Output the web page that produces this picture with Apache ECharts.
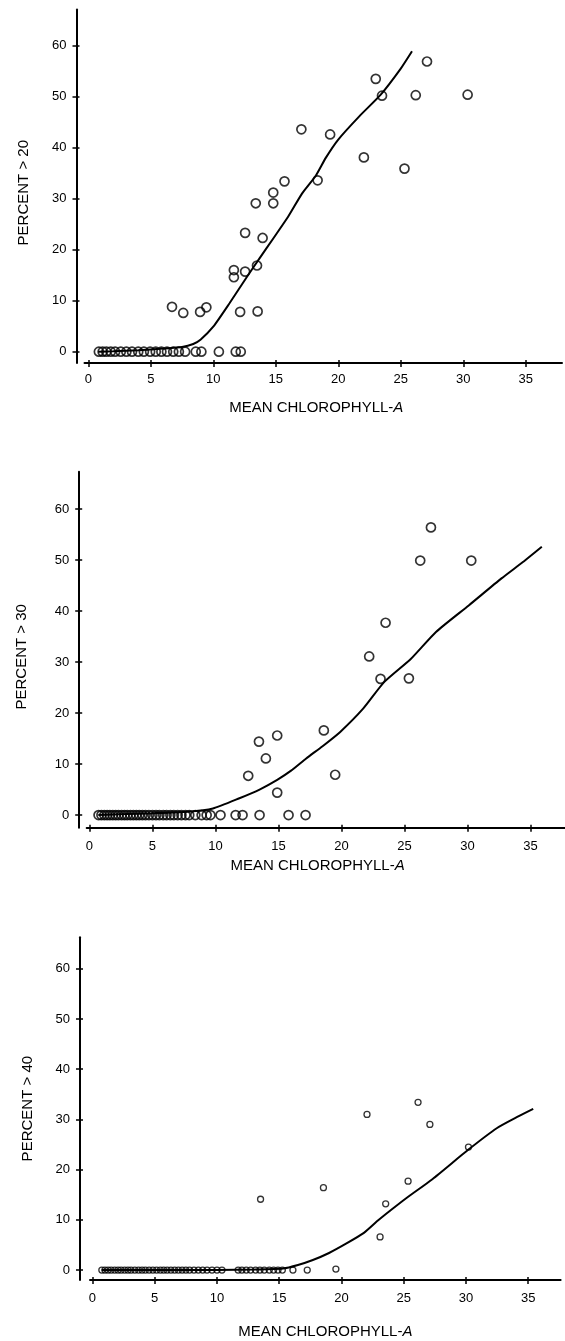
<!DOCTYPE html>
<html>
<head>
<meta charset="utf-8">
<script src="https://cdn.jsdelivr.net/npm/echarts@6/dist/echarts.min.js"></script>
<style>
  html, body { margin: 0; padding: 0; background: #fff; }
  #chart { width: 565px; height: 1341px; }
</style>
</head>
<body>
<div id="chart"></div>
<script>
// tick labels shared by the three panels
var xTicks = [0, 5, 10, 15, 20, 25, 30, 35];
var yTicks = [0, 10, 20, 30, 40, 50, 60];

// PERCENT > 20 : observed lakes [mean chl-a, percent]
var pct20Points = [
  [0.85, 0], [1.15, 0], [1.45, 0], [1.8, 0], [2.15, 0], [2.6, 0], [3.05, 0], [3.5, 0],
  [4.0, 0], [4.45, 0], [4.95, 0], [5.4, 0], [5.85, 0], [6.3, 0], [6.8, 0], [7.25, 0],
  [7.75, 0], [8.6, 0], [9.05, 0], [10.45, 0], [11.8, 0], [12.2, 0],
  [6.7, 8.8], [7.6, 7.6], [8.95, 7.8], [9.45, 8.7], [11.65, 16.0], [11.65, 14.6],
  [12.55, 15.7], [12.55, 23.3], [12.15, 7.8], [13.4, 29.1], [13.5, 16.9], [13.55, 7.9],
  [13.95, 22.3], [14.8, 31.2], [14.8, 29.1], [15.7, 33.4], [17.05, 43.6], [18.35, 33.6],
  [19.35, 42.6], [22.05, 38.1], [23.0, 53.5], [23.5, 50.2], [25.3, 35.9], [26.2, 50.3],
  [27.1, 56.9], [30.35, 50.4]
];
// fitted curve
var pct20Curve = [
  [0.8, 0], [2, 0.1], [4, 0.3], [6, 0.6], [7.5, 0.9], [8.4, 1.5], [9, 2.4], [10, 4.9],
  [11.3, 9.5], [12.7, 14.7], [13.7, 18.3], [14.8, 22.2], [16, 26.5], [17.1, 31],
  [18.2, 34.5], [19, 38], [20, 41.6], [21.7, 46.2], [23.4, 50.4], [25, 55.5], [25.9, 58.9]
];

// PERCENT > 30
var pct30Points = [
  [0.72, 0], [0.95, 0], [1.18, 0], [1.4, 0], [1.62, 0], [1.85, 0], [2.08, 0], [2.3, 0],
  [2.55, 0], [2.78, 0], [3.0, 0], [3.25, 0], [3.48, 0], [3.72, 0], [3.95, 0], [4.2, 0],
  [4.45, 0], [4.72, 0], [5.0, 0], [5.28, 0], [5.55, 0], [5.85, 0], [6.12, 0], [6.42, 0],
  [6.7, 0], [7.0, 0], [7.3, 0], [7.62, 0], [7.92, 0], [8.4, 0], [8.9, 0], [9.3, 0],
  [9.6, 0], [10.4, 0], [11.6, 0], [12.15, 0], [13.5, 0], [15.8, 0], [17.15, 0],
  [12.6, 7.7], [13.45, 14.4], [14.0, 11.1], [14.9, 15.6], [14.9, 4.4], [18.6, 16.6],
  [19.5, 7.9], [22.2, 31.1], [23.1, 26.7], [23.5, 37.7], [25.35, 26.8], [26.25, 49.9],
  [27.1, 56.4], [30.3, 49.9]
];
var pct30Curve = [
  [0.7, 0], [3, 0.2], [5, 0.35], [7.8, 0.65], [9.8, 1.3], [11.9, 3.3], [13.5, 5],
  [14.9, 6.9], [16, 8.7], [17.2, 11.1], [18.5, 13.5], [19.9, 16.3], [21.7, 20.8],
  [23.4, 26.1], [25.5, 30.6], [27.5, 35.9], [30.1, 41.1], [32.7, 46.4], [34.4, 49.6],
  [35.9, 52.6]
];

// PERCENT > 40
var pct40Points = [
  [0.75, 0], [1.0, 0], [1.25, 0], [1.5, 0], [1.78, 0], [2.05, 0], [2.3, 0], [2.58, 0],
  [2.85, 0], [3.1, 0], [3.4, 0], [3.7, 0], [3.98, 0], [4.25, 0], [4.55, 0], [4.85, 0],
  [5.15, 0], [5.45, 0], [5.72, 0], [6.0, 0], [6.3, 0], [6.6, 0], [6.9, 0], [7.2, 0],
  [7.5, 0], [7.8, 0], [8.15, 0], [8.5, 0], [8.85, 0], [9.2, 0], [9.6, 0], [10.0, 0],
  [10.4, 0], [11.7, 0], [12.0, 0], [12.35, 0], [12.7, 0], [13.1, 0], [13.45, 0],
  [13.8, 0], [14.2, 0], [14.55, 0], [14.9, 0], [15.25, 0], [16.1, 0], [17.25, 0],
  [19.55, 0.2],
  [13.5, 14.1], [18.55, 16.4], [22.05, 31.0], [23.1, 6.6], [23.55, 13.2], [25.35, 17.7],
  [26.15, 33.4], [27.1, 29.0], [30.2, 24.5]
];
var pct40Curve = [
  [0.74, 0], [5, 0], [10, 0], [13, 0.1], [15.3, 0.3], [16.5, 1.0], [17.7, 2.0],
  [19, 3.4], [20.4, 5.3], [21.8, 7.4], [22.9, 9.8], [24, 12], [25.25, 14.4], [27.3, 18.1],
  [30.2, 24.0], [32.5, 28.3], [34.2, 30.6], [35.4, 32.1]
];

var ink = "#000";
var font = "Liberation Sans";

var panels = [
  { title: "PERCENT > 20", points: pct20Points, curve: pct20Curve,
    left: 84.5, top: 9.5, width: 477.5, height: 353.4,
    xMin: -0.3, xMax: 37.9, yMin: -2.2, yMax: 67.1, yOffset: 8,
    xLabelMargin: 10, xNameGap: 37, xNamePad: [0, 14, 0, 0],
    yNameGap: 45, yNamePad: [0, 13, 0, 0], symbolSize: 9, symbolBorder: 1.7 },
  { title: "PERCENT > 30", points: pct30Points, curve: pct30Curve,
    left: 86.7, top: 471.8, width: 477.8, height: 356,
    xMin: -0.22, xMax: 37.7, yMin: -2.5, yMax: 67.3, yOffset: 7.5,
    xLabelMargin: 12, xNameGap: 31, xNamePad: [0, 16, 0, 0],
    yNameGap: 50, yNamePad: [0, 14, 0, 0], symbolSize: 9, symbolBorder: 1.7 },
  { title: "PERCENT > 40", points: pct40Points, curve: pct40Curve,
    left: 90, top: 937.2, width: 470.6, height: 342.9,
    xMin: -0.2, xMax: 37.6, yMin: -2.0, yMax: 66.3, yOffset: 10,
    xLabelMargin: 12, xNameGap: 44, xNamePad: [0, 0, 0, 0],
    yNameGap: 45, yNamePad: [0, 0, 0, 0], symbolSize: 6, symbolBorder: 1.3 }
];

var option = {
  backgroundColor: "#fff",
  animation: false,
  textStyle: { fontFamily: font, color: ink },
  grid: [],
  xAxis: [],
  yAxis: [],
  series: []
};

panels.forEach(function (p, i) {
  var rect = { left: p.left, top: p.top, width: p.width, height: p.height, outerBoundsMode: "none" };
  // main grid + twin grid for the inner half of the "+" ticks
  option.grid.push(Object.assign({}, rect), Object.assign({}, rect));
  var g = i * 2;

  option.xAxis.push({
    gridIndex: g, type: "value", min: p.xMin, max: p.xMax,
    axisLine: { onZero: false, lineStyle: { color: ink, width: 2 } },
    axisTick: { customValues: xTicks, length: 4, lineStyle: { color: ink, width: 1.5 } },
    axisLabel: { customValues: xTicks, margin: p.xLabelMargin, color: ink, fontSize: 13, fontFamily: font },
    splitLine: { show: false },
    name: "{n|MEAN CHLOROPHYLL-}{i|A}",
    nameLocation: "middle",
    nameGap: p.xNameGap,
    nameTextStyle: {
      padding: p.xNamePad,
      rich: {
        n: { fontSize: 15, fontFamily: font, color: ink },
        i: { fontSize: 15, fontFamily: font, color: ink, fontStyle: "italic" }
      }
    }
  });
  option.xAxis.push({
    gridIndex: g + 1, type: "value", min: p.xMin, max: p.xMax,
    axisLine: { show: false, onZero: false },
    axisTick: { inside: true, customValues: xTicks, length: 3, lineStyle: { color: ink, width: 1.5 } },
    axisLabel: { show: false },
    splitLine: { show: false }
  });

  option.yAxis.push({
    gridIndex: g, type: "value", min: p.yMin, max: p.yMax, offset: p.yOffset,
    axisLine: { onZero: false, lineStyle: { color: ink, width: 2 } },
    axisTick: { customValues: yTicks, length: 4, lineStyle: { color: ink, width: 1.5 } },
    axisLabel: { customValues: yTicks, margin: 10, color: ink, fontSize: 13, fontFamily: font },
    splitLine: { show: false },
    name: p.title,
    nameLocation: "middle",
    nameGap: p.yNameGap,
    nameTextStyle: { fontSize: 15, fontFamily: font, color: ink, padding: p.yNamePad }
  });
  option.yAxis.push({
    gridIndex: g + 1, type: "value", min: p.yMin, max: p.yMax, offset: p.yOffset,
    axisLine: { show: false, onZero: false },
    axisTick: { inside: true, customValues: yTicks, length: 3, lineStyle: { color: ink, width: 1.5 } },
    axisLabel: { show: false },
    splitLine: { show: false }
  });

  option.series.push({
    type: "line", xAxisIndex: g, yAxisIndex: g,
    data: p.curve, showSymbol: false, smooth: 0.2,
    lineStyle: { color: ink, width: 2 }
  });
  option.series.push({
    type: "scatter", xAxisIndex: g, yAxisIndex: g,
    data: p.points, symbol: "circle", symbolSize: p.symbolSize,
    itemStyle: { color: "rgba(0,0,0,0)", borderColor: ink, borderWidth: p.symbolBorder }
  });
});

var myChart = echarts.init(document.getElementById("chart"));
myChart.setOption(option);
</script>
</body>
</html>
